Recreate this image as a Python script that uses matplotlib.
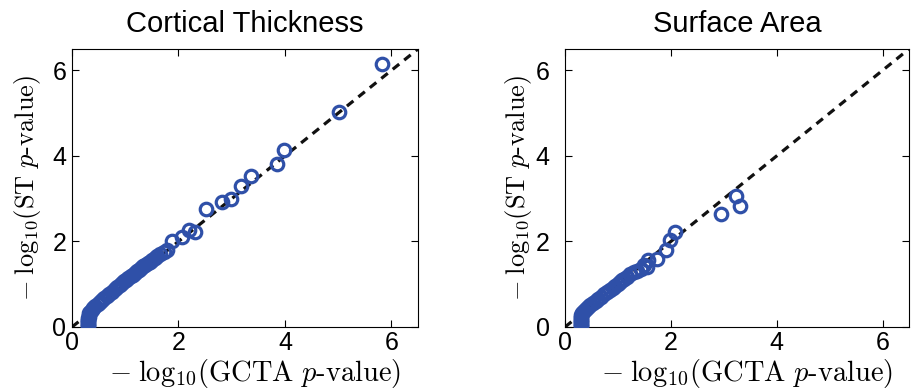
import matplotlib
matplotlib.use("Agg")
import matplotlib.pyplot as plt

plt.rcParams['font.family'] = ['Liberation Sans', 'DejaVu Sans']
plt.rcParams['mathtext.fontset'] = 'cm'

titles = ["Cortical Thickness", "Surface Area"]
xlabel = r'$-\;\mathrm{log}_{10}(\mathrm{GCTA}\ p\text{-value})$'
ylabel = r'$-\;\mathrm{log}_{10}(\mathrm{ST}\ p\text{-value})$'
ticks = [0, 2, 4, 6]

gcta_ct = [0.30, 0.30, 0.30, 0.30, 0.30, 0.30, 0.30, 0.31, 0.31, 0.32, 0.34, 0.37, 0.40,
           0.44, 0.48, 0.52, 0.56, 0.60, 0.65, 0.70, 0.75, 0.80, 0.85, 0.90, 0.94, 0.98,
           1.02, 1.06, 1.10, 1.14, 1.18, 1.22, 1.26, 1.30, 1.34, 1.38, 1.42, 1.46, 1.50,
           1.55, 1.60, 1.66, 1.72, 1.78, 1.87, 2.07, 2.20, 2.32, 2.51, 2.82, 2.98, 3.18,
           3.37, 3.85, 3.98, 5.01, 5.83]
st_ct = [0.02, 0.05, 0.08, 0.11, 0.14, 0.17, 0.20, 0.24, 0.28, 0.32, 0.36, 0.40, 0.44,
         0.49, 0.54, 0.58, 0.62, 0.67, 0.72, 0.78, 0.83, 0.88, 0.94, 0.99, 1.03, 1.07,
         1.11, 1.15, 1.19, 1.22, 1.26, 1.30, 1.34, 1.38, 1.42, 1.46, 1.50, 1.53, 1.57,
         1.61, 1.66, 1.71, 1.76, 1.80, 2.02, 2.10, 2.27, 2.23, 2.76, 2.93, 2.99, 3.29,
         3.53, 3.82, 4.13, 5.02, 6.15]

gcta_sa = [0.30, 0.30, 0.30, 0.30, 0.30, 0.30, 0.30, 0.31, 0.31, 0.33, 0.36, 0.40, 0.44,
           0.48, 0.53, 0.58, 0.63, 0.68, 0.74, 0.79, 0.85, 0.90, 0.95, 1.00, 1.04, 1.08,
           1.12, 1.17, 1.23, 1.30, 1.36, 1.44, 1.50, 1.55, 1.57, 1.73, 1.90, 1.98, 2.07,
           2.94, 3.23, 3.31]
st_sa = [0.02, 0.05, 0.08, 0.11, 0.14, 0.17, 0.20, 0.24, 0.28, 0.33, 0.37, 0.42, 0.47,
         0.51, 0.56, 0.61, 0.66, 0.71, 0.76, 0.81, 0.86, 0.91, 0.96, 1.01, 1.05, 1.09,
         1.13, 1.17, 1.23, 1.28, 1.32, 1.36, 1.45, 1.40, 1.56, 1.60, 1.81, 2.04, 2.22,
         2.64, 3.07, 2.84]

W, H = 923, 392
fig = plt.figure(figsize=(W / 100, H / 100), dpi=100)
rects = [(72, 49, 346, 278), (565, 49, 344, 278)]
ypads = [4, 11]
ylab_off = [44, 47]
data = [(gcta_ct, st_ct), (gcta_sa, st_sa)]
color = '#2f50a8'

for (l, t, w, h), (xs, ys), title, yp, yo in zip(rects, data, titles, ypads, ylab_off):
    ax = fig.add_axes([l / W, (H - t - h) / H, w / W, h / H])
    ax.plot([0, 6.5], [0, 6.5], ls=(0, (2.6, 2.0)), color='#111111', lw=2.3, zorder=2)
    ax.plot(xs, ys, ls='none', marker='o', ms=9, mfc='none', mec=color, mew=2.3, zorder=3)
    ax.set_xlim(0, 6.5)
    ax.set_ylim(0, 6.5)
    ax.set_xticks(ticks)
    ax.set_yticks(ticks)
    ax.tick_params(direction='in', top=True, right=True, labelsize=18, length=5, width=0.8)
    ax.tick_params(axis='x', pad=3)
    ax.tick_params(axis='y', pad=yp)
    ax.set_title(title, fontsize=21, pad=12)
    ax.set_xlabel(xlabel, fontsize=20.5)
    ax.set_ylabel(ylabel, fontsize=19)
    ax.xaxis.label.set_verticalalignment('center')
    ax.yaxis.label.set_verticalalignment('center')
    ax.xaxis.set_label_coords(0.53, -47 / h)
    ax.yaxis.set_label_coords(-yo / w, 0.5)
    for s in ax.spines.values():
        s.set_linewidth(0.8)

fig.savefig('out.png', dpi=100)
